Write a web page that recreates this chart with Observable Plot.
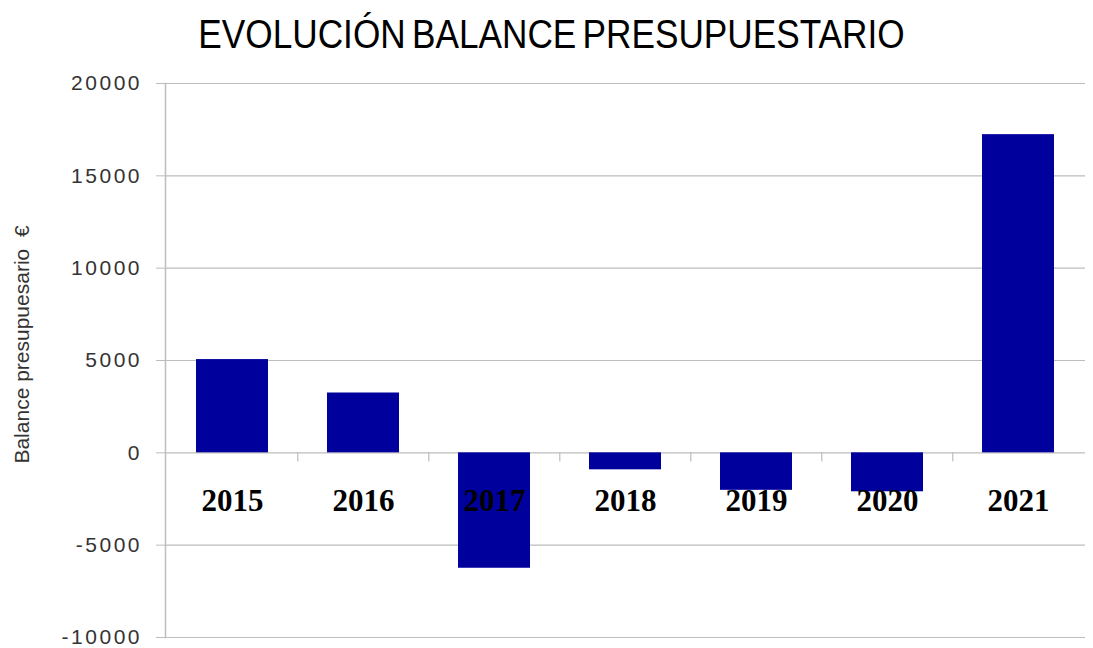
<!DOCTYPE html>
<html>
<head>
<meta charset="utf-8">
<script src="https://cdn.jsdelivr.net/npm/d3@7"></script>
<script src="https://cdn.jsdelivr.net/npm/@observablehq/plot@0.6"></script>
<style>
  html, body { margin: 0; padding: 0; background: #fff; }
  #wrap { position: relative; width: 1093px; height: 648px; overflow: hidden; }
  #title {
    position: absolute; left: 5px; top: 14px; width: 1093px;
    text-align: center; font-family: "Liberation Sans", Arial, sans-serif;
    font-size: 40px; line-height: 40px; color: #000; word-spacing: -4px;
    transform: scaleX(0.88); transform-origin: center;
    white-space: nowrap;
  }
  #chart { position: absolute; left: 0; top: 0; }
  #chart g[aria-label="y-axis tick label"] text { letter-spacing: 2.5px; }
</style>
</head>
<body>
<div id="wrap">
  <div id="chart"></div>
  <div id="title">EVOLUCIÓN BALANCE PRESUPUESTARIO</div>
</div>
<script>
const years = ["2015", "2016", "2017", "2018", "2019", "2020", "2021"];
const balance = [5050, 3240, -6250, -920, -2030, -2110, 17230];
const yTicks = [-10000, -5000, 0, 5000, 10000, 15000, 20000];
const yLabel = "Balance presupuesario\u00a0 €";

const data = years.map((y, i) => ({year: y, value: balance[i]}));

const W = 1093, H = 648;
const mL = 165, mR = 8, mT = 83, mB = 11;
const step = (W - mL - mR) / years.length;
const grid = "#bdbdbd";

const chart = Plot.plot({
  width: W,
  height: H,
  marginLeft: mL,
  marginRight: mR,
  marginTop: mT,
  marginBottom: mB,
  style: {background: "#fff", overflow: "visible"},
  x: {type: "band", domain: years, paddingInner: 0.45, paddingOuter: 0.225, axis: null},
  y: {domain: [-10000, 20000]},
  marks: [
    Plot.ruleY(yTicks, {stroke: grid, strokeWidth: 1.2}),
    Plot.axisY({
      ticks: yTicks, tickFormat: d => String(d), tickSize: 9, tickPadding: 14.5,
      stroke: grid, fill: "#333", fontSize: 21, fontFamily: "Liberation Sans, Arial, sans-serif",
      label: null
    }),
    Plot.frame({anchor: "left", stroke: grid, strokeWidth: 1.5}),
    Plot.barY(data, {x: "year", y: "value", fill: "#00009c"}),
    Plot.ruleX(years.slice(1), {x: d => d, y1: () => 0, y2: () => -500, dx: -step / 2, stroke: grid, strokeWidth: 1.2}),
    Plot.text(years, {
      x: d => d, y: () => 0, dy: 48, text: d => d,
      fontFamily: "Liberation Serif, Times New Roman, serif", fontWeight: "bold",
      fontSize: 31, fill: "#000"
    }),
    Plot.text([yLabel], {
      frameAnchor: "left", textAnchor: "middle", text: d => d, rotate: -90, dx: -143, dy: -16,
      fontSize: 21, fill: "#333", fontFamily: "Liberation Sans, Arial, sans-serif"
    })
  ]
});
document.getElementById("chart").appendChild(chart);
</script>
</body>
</html>
